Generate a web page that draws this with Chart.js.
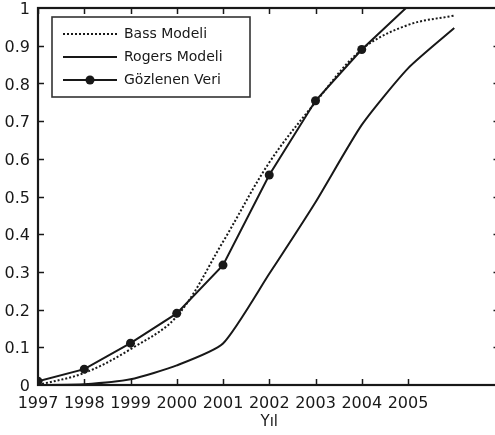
<!DOCTYPE html>
<html>
<head>
<meta charset="utf-8">
<script src="https://cdn.jsdelivr.net/npm/chart.js@4"></script>
<style>
  html, body { margin: 0; padding: 0; background: #fff; overflow: hidden; }
  .wrap { position: relative; width: 505px; height: 435px; }
</style>
</head>
<body>
<div class="wrap"><canvas id="chart"></canvas></div>
<script>
// values
const modelYears = [1997, 1998, 1999, 2000, 2001, 2002, 2003, 2004, 2005, 2006];
const bassValues = [0, 0.032, 0.095, 0.182, 0.38, 0.59, 0.75, 0.89, 0.955, 0.98];
const rogersValues = [0, 0.002, 0.015, 0.052, 0.11, 0.295, 0.485, 0.69, 0.84, 0.947];
const observedYears = [1997, 1998, 1999, 2000, 2001, 2002, 2003, 2004, 2005];
const observedValues = [0.01, 0.042, 0.111, 0.19, 0.318, 0.557, 0.754, 0.89, 1.005];
const yearLabels = [1997, 1998, 1999, 2000, 2001, 2002, 2003, 2004, 2005];
const seriesNames = ['Bass Modeli', 'Rogers Modeli', 'Gözlenen Veri'];

const ink = '#181818';
const fontFamily = '"DejaVu Sans", Verdana, sans-serif';

const toPoints = (xs, ys) => xs.map((x, i) => ({ x: x, y: ys[i] }));

// frame, inward ticks and the boxed legend
const framePlugin = {
  id: 'frame',
  afterDraw(chart) {
    const ctx = chart.ctx;
    const a = chart.chartArea;
    const xs = chart.scales.x, ys = chart.scales.y;
    ctx.save();
    ctx.strokeStyle = ink;
    ctx.lineWidth = 2.2;
    ctx.strokeRect(a.left, a.top, a.right - a.left, a.bottom - a.top);

    ctx.lineWidth = 1.5;
    ctx.beginPath();
    yearLabels.forEach(yr => {
      const px = Math.round(xs.getPixelForValue(yr)) + 0.5;
      ctx.moveTo(px, a.bottom); ctx.lineTo(px, a.bottom - 6);
      if (yr <= 2004) { ctx.moveTo(px, a.top); ctx.lineTo(px, a.top + 6); }
    });
    for (let v = 0.1; v < 0.95; v += 0.1) {
      const py = Math.round(ys.getPixelForValue(v)) + 0.5;
      ctx.moveTo(a.left, py); ctx.lineTo(a.left + 6, py);
      ctx.moveTo(a.right, py); ctx.lineTo(a.right - 7, py);
    }
    ctx.stroke();

    // legend
    const bx = 52, by = 17, bw = 198, bh = 80;
    ctx.fillStyle = '#fff';
    ctx.fillRect(bx, by, bw, bh);
    ctx.lineWidth = 1.6;
    ctx.strokeStyle = '#333';
    ctx.strokeRect(bx, by, bw, bh);
    ctx.font = '14px ' + fontFamily;
    ctx.textBaseline = 'middle';
    ctx.fillStyle = ink;
    chart.data.datasets.forEach((ds, i) => {
      const cy = by + 17 + i * 23;
      ctx.strokeStyle = ink;
      ctx.lineWidth = ds.borderWidth;
      ctx.setLineDash(ds.borderDash || []);
      ctx.beginPath();
      ctx.moveTo(63, cy); ctx.lineTo(117, cy);
      ctx.stroke();
      ctx.setLineDash([]);
      if (ds.showMarker) {
        ctx.beginPath();
        ctx.arc(90, cy, 4.5, 0, Math.PI * 2);
        ctx.fill();
      }
      ctx.fillText(ds.label, 124, cy);
    });
    ctx.restore();
  }
};

new Chart(document.getElementById('chart'), {
  type: 'line',
  data: {
    datasets: [
      {
        label: seriesNames[0],
        data: toPoints(modelYears, bassValues),
        borderColor: ink,
        borderWidth: 2,
        borderDash: [2, 2],
        pointRadius: 0,
        tension: 0.35
      },
      {
        label: seriesNames[1],
        data: toPoints(modelYears, rogersValues),
        borderColor: ink,
        borderWidth: 2,
        pointRadius: 0,
        tension: 0.2
      },
      {
        label: seriesNames[2],
        data: toPoints(observedYears, observedValues),
        borderColor: ink,
        backgroundColor: ink,
        borderWidth: 2,
        pointRadius: observedValues.map((v, i) => i < observedValues.length - 1 ? 4.5 : 0),
        pointBackgroundColor: ink,
        pointBorderWidth: 0,
        tension: 0,
        showMarker: true
      }
    ]
  },
  options: {
    responsive: true,
    maintainAspectRatio: false,
    animation: false,
    layout: { padding: { top: 8, right: 4, left: 0, bottom: 0 } },
    plugins: {
      legend: { display: false },
      tooltip: { enabled: false }
    },
    scales: {
      x: {
        type: 'linear',
        min: 1997,
        max: 2007,
        border: { display: false },
        grid: { display: false },
        afterFit: s => { s.height = 50; s.paddingLeft = 0; s.paddingRight = 0; },
        afterBuildTicks: s => { s.ticks = yearLabels.map(v => ({ value: v })); },
        ticks: {
          autoSkip: false,
          maxRotation: 0,
          padding: 1,
          color: ink,
          font: { family: fontFamily, size: 16 },
          callback: v => String(v)
        },
        title: {
          display: true,
          text: 'Yıl',
          color: ink,
          padding: { top: 0, bottom: 4 },
          font: { family: fontFamily, size: 15 }
        }
      },
      y: {
        min: 0,
        max: 1,
        border: { display: false },
        grid: { display: false },
        afterFit: s => { s.width = 38; s.paddingTop = 0; s.paddingBottom = 0; },
        ticks: {
          stepSize: 0.1,
          padding: 0,
          labelOffset: 2,
          color: ink,
          font: { family: fontFamily, size: 16 },
          callback: v => String(Math.round(v * 10) / 10)
        }
      }
    }
  },
  plugins: [framePlugin]
});
</script>
</body>
</html>
